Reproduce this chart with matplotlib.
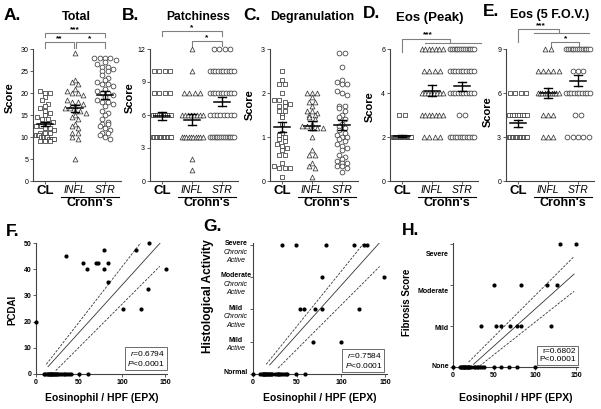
import numpy as np
import matplotlib
matplotlib.use("Agg")
import matplotlib.pyplot as plt
from matplotlib.transforms import blended_transform_factory as blend

plt.rcParams['font.family'] = ['Liberation Sans', 'DejaVu Sans']
plt.rcParams['mathtext.fontset'] = 'custom'
plt.rcParams['mathtext.rm'] = 'Liberation Sans'
plt.rcParams['mathtext.it'] = 'Liberation Sans:italic'

# ---------------- data ----------------
groups = ["CL", "INFL", "STR"]

total_cl = [20.5, 20, 20, 19, 18.5, 17.5, 17, 16.5, 16, 15.5, 15, 14.5, 14, 14, 13.5, 13, 13,
            12.5, 12.5, 12, 12, 11.5, 11, 11, 11, 10.5, 10.5, 10.5, 10, 10, 10, 10, 10,
            9.5, 9.5, 9.5, 9.5, 9, 9, 9]
total_infl = [29, 23, 22.5, 22, 21, 20.5, 20, 20, 19.5, 18.5, 18, 18, 17.5, 17, 16.5, 16.5,
              16, 16, 15.5, 15, 14.5, 14, 13, 12.5, 12, 11, 11, 10, 9.5, 5]
total_str = [28, 28, 28, 28, 27.5, 27, 26.5, 26, 26, 25.5, 25, 25, 24, 23.5, 23, 22.5, 22, 22,
             21.5, 21, 20.5, 20, 20, 19.5, 19, 18.5, 18, 18, 17.5, 17, 16, 15.5, 15, 14, 13.5,
             13, 13, 12.5, 12, 11.5, 11, 11, 10.5, 10, 9.5]

patch_cl = [10] * 4 + [8] * 4 + [6] * 10 + [4] * 14
patch_infl = [12, 10] + [8] * 4 + [6] * 8 + [4] * 10 + [2, 1]
patch_str = [12] * 4 + [10] * 10 + [8] * 10 + [6] * 8 + [4] * 14

degr_cl = [2.5, 2.3, 2.2, 2.2, 2.0, 1.85, 1.85, 1.8, 1.75, 1.7, 1.7, 1.6, 1.6, 1.5, 1.45, 1.3,
           1.1, 1.05, 1.0, 0.95, 0.9, 0.85, 0.8, 0.75, 0.7, 0.6, 0.6, 0.4, 0.35, 0.3, 0.3, 0.3, 0.1]
degr_infl = [2.0, 2.0, 2.0, 1.9, 1.8, 1.8, 1.7, 1.6, 1.6, 1.55, 1.5, 1.5, 1.45, 1.4, 1.3, 1.25,
             1.25, 1.2, 1.2, 1.2, 1.0, 0.7, 0.6, 0.6, 0.4, 0.35, 0.3, 0.1]
degr_str = [2.9, 2.9, 2.6, 2.3, 2.25, 2.2, 2.2, 2.05, 2.0, 1.95, 1.7, 1.7, 1.65, 1.6, 1.5, 1.45,
            1.4, 1.3, 1.25, 1.2, 1.15, 1.1, 1.05, 1.0, 1.0, 0.95, 0.9, 0.85, 0.8, 0.75, 0.7,
            0.6, 0.55, 0.5, 0.45, 0.4, 0.4, 0.35, 0.35, 0.3, 0.2]

peak_cl = [3, 3] + [2] * 30
peak_infl = [6] * 7 + [5] * 4 + [4] * 8 + [3] * 7 + [2] * 4
peak_str = [6] * 14 + [5] * 10 + [4] * 10 + [3] * 2 + [2] * 11

fov_cl = [6] * 4 + [4.5] * 8 + [3] * 14
fov_infl = [9] * 2 + [7.5] * 5 + [6] * 10 + [4.5] * 3 + [3] * 3
fov_str = [9] * 14 + [7.5] * 3 + [6] * 10 + [4.5] * 2 + [3] * 5

# correlation panels (eosinophils / HPF vs clinical scores)
pcdai_eos = [0, 35, 55, 59, 70, 72, 79, 79, 84, 84, 101, 116, 122, 131, 130, 151,
             9, 11, 13, 14, 15, 16, 17, 18, 19, 20, 21, 22, 23, 25, 26, 28, 30, 32, 34, 36,
             38, 41, 50, 60]
pcdai_val = [20, 45, 42.5, 40, 42.5, 42.5, 47.5, 40, 42.5, 35, 25, 47.5, 25, 50, 32.5, 40,
             0, 0, 0, 0, 0, 0, 0, 0, 0, 0, 0, 0, 0, 0, 0, 0, 0, 0, 0, 0, 0, 0, 0, 0]
pcdai_fit_x = [14, 145]
pcdai_fit_y = [2.8, 50.2]
pcdai_up_x = [12, 123]
pcdai_up_y = [3.7, 50.6]
pcdai_lo_x = [23, 144]
pcdai_lo_y = [1.3, 41.1]

hist_eos = [33, 49, 83, 115, 126, 130, 78, 149, 53, 58, 70, 78, 120, 68, 100,
            0, 8, 10, 11, 12, 13, 14, 15, 16, 17, 18, 19, 20, 22, 25, 27, 28, 30, 31, 33,
            35, 37, 39, 49, 59]
hist_val = [4, 4, 4, 4, 4, 4, 3, 3, 2, 2, 2, 2, 2, 1, 1,
            0, 0, 0, 0, 0, 0, 0, 0, 0, 0, 0, 0, 0, 0, 0, 0, 0, 0, 0, 0, 0, 0, 0, 0, 0]
hist_fit_x = [19, 144]
hist_fit_y = [0.28, 4.07]
hist_up_x = [15, 125]
hist_up_y = [0.3, 4.02]
hist_lo_x = [28.5, 144]
hist_lo_y = [0.18, 3.33]
hist_levels = [0, 1, 2, 3, 4]
hist_labels = [["Normal"], ["Mild", "Active"], ["Mild", "Chronic", "Active"],
               ["Moderate", "Chronic", "Active"], ["Severe", "Chronic", "Active"]]

fib_eos = [130, 150, 50, 83, 115, 127, 34, 53, 58, 70, 78, 83, 120,
           0, 8, 10, 11, 12, 13, 14, 15, 16, 17, 18, 19, 20, 22, 25, 27, 29, 31, 33, 35, 38,
           50, 58, 68, 78, 100]
fib_val = [3, 3, 2, 2, 2, 2, 1, 1, 1, 1, 1, 1, 1,
           0, 0, 0, 0, 0, 0, 0, 0, 0, 0, 0, 0, 0, 0, 0, 0, 0, 0, 0, 0, 0, 0, 0, 0, 0, 0]
fib_fit_x = [25, 147.6]
fib_fit_y = [0.066, 2.27]
fib_up_x = [19, 147.6]
fib_up_y = [0.12, 2.7]
fib_lo_x = [32.4, 147.6]
fib_lo_y = [0.025, 1.85]
fib_label_pos = [0, 0.93, 1.85, 2.75]
fib_labels = ["None", "Mild", "Moderate", "Severe"]

# ---------------- figure ----------------
W, H = 601, 409
fig = plt.figure(figsize=(W / 100, H / 100), dpi=100)


def rect(l, t, r, b):
    return [l / W, 1 - b / H, (r - l) / W, (b - t) / H]


def ft(x, y, s, **kw):
    fig.text(x / W, 1 - y / H, s, **kw)


EDGE = '#3a3a3a'
SPINE = '#444444'
BRK = '#808080'
markers = ['s', '^', 'o']
maxw = [0.6, 0.7, 0.8]
TOP, BOT = 49, 181


def yf(py):
    return (BOT - py) / (BOT - TOP)


def swarm_x(vals, center, binw, d, mw):
    vals = np.asarray(vals, float)
    keys = np.round(vals / binw).astype(int)
    xs = np.zeros_like(vals)
    for k in np.unique(keys):
        idx = np.where(keys == k)[0]
        n = len(idx)
        if n == 1:
            xs[idx] = center
            continue
        sp = min(d, mw / (n - 1))
        xs[idx] = center + (np.arange(n) - (n - 1) / 2) * sp
    return xs


def style_axes(ax):
    for s in ['top', 'right']:
        ax.spines[s].set_visible(False)
    for s in ['left', 'bottom']:
        ax.spines[s].set_color(SPINE)
        ax.spines[s].set_linewidth(0.8)
    ax.tick_params(axis='both', direction='out', length=2, width=0.6, color=SPINE,
                   labelsize=5, pad=1.5)


def dot_panel(L, series, ymax, yticks, binw):
    ax = fig.add_axes(rect(L, TOP, L + 88, BOT))
    style_axes(ax)
    for gi, vals in enumerate(series):
        xs = swarm_x(vals, gi, binw, 0.18, maxw[gi])
        ax.scatter(xs, vals, marker=markers[gi], s=12, facecolors='white',
                   edgecolors=EDGE, linewidths=0.55, zorder=3, clip_on=False)
        m = np.mean(vals)
        se = np.std(vals, ddof=1) / np.sqrt(len(vals))
        ax.plot([gi - 0.28, gi + 0.28], [m, m], color='black', lw=1.1, zorder=4)
        ax.plot([gi, gi], [m - se, m + se], color='black', lw=1.0, zorder=4)
        for yy in (m - se, m + se):
            ax.plot([gi - 0.14, gi + 0.14], [yy, yy], color='black', lw=1.0, zorder=4)
    ax.set_xlim(-0.4, 2.53)
    ax.set_ylim(0, ymax)
    ax.set_yticks(yticks)
    ax.set_xticks([0, 1, 2])
    ax.set_xticklabels([])
    tr = ax.get_xaxis_transform()
    ax.text(0, yf(191), groups[0], transform=tr, ha='center', va='center',
            fontsize=9.5, fontweight='bold')
    for gi in (1, 2):
        ax.text(gi, yf(190), groups[gi], transform=tr, ha='center', va='center',
                fontsize=7.5, fontstyle='italic')
    ax.plot([0.52, 2.45], [yf(196.5), yf(196.5)], transform=tr, color='black', lw=0.8,
            clip_on=False)
    ax.text(1.48, yf(203), "Crohn's", transform=tr, ha='center', va='center',
            fontsize=9, fontweight='bold')
    return ax


def bracket(ax, pts, text=None, tx=None, ty=None):
    tr = blend(ax.transData, ax.transAxes)
    xs = [p[0] for p in pts]
    ys = [yf(p[1]) for p in pts]
    ax.plot(xs, ys, transform=tr, color=BRK, lw=0.8, clip_on=False)
    if text:
        ax.text(tx, yf(ty), text, transform=tr, ha='center', va='center', fontsize=6,
                fontweight='bold')


# A
axA = dot_panel(33, [total_cl, total_infl, total_str], 30, [0, 5, 10, 15, 20, 25, 30], 1.0)
bracket(axA, [(0, 37), (0, 33), (2, 33), (2, 37)], "***", 1, 29.5)
bracket(axA, [(0, 48), (0, 42), (0.97, 42), (0.97, 48)], "**", 0.48, 38.5)
bracket(axA, [(1.03, 48), (1.03, 42), (2, 42), (2, 48)], "*", 1.5, 38.5)
# B
axB = dot_panel(150, [patch_cl, patch_infl, patch_str], 12, [0, 3, 6, 9, 12], 0.5)
bracket(axB, [(0, 36), (0, 31), (2, 31), (2, 36)], "*", 1, 27.5)
bracket(axB, [(1, 45.7), (1, 40.7), (2, 40.7), (2, 45.7)], "*", 1.5, 37.5)
# C
axC = dot_panel(270, [degr_cl, degr_infl, degr_str], 3, [0, 1, 2, 3], 0.1)
# D
axD = dot_panel(390, [peak_cl, peak_infl, peak_str], 6, [0, 2, 4, 6], 0.5)
bracket(axD, [(0, 52), (0, 39), (1.6, 39), (1.6, 43)], "***", 0.86, 34.5)
bracket(axD, [(0.76, 43), (2.62, 43)])
# E
axE = dot_panel(506, [fov_cl, fov_infl, fov_str], 9, [0, 3, 6, 9], 0.5)
bracket(axE, [(0, 41.7), (0, 29.3), (1.38, 29.3), (1.38, 33.3)], "***", 0.75, 26)
bracket(axE, [(0.52, 33.3), (2.38, 33.3)])
bracket(axE, [(1.09, 46.7), (1.09, 41.7), (2.04, 41.7), (2.04, 46.7)], "*", 1.57, 38.3)

# titles, letters, y labels (top)
for (x, y, s, fs) in [(76, 17, "Total", 9), (198, 17, "Patchiness", 8.7),
                      (312, 17, "Degranulation", 9), (430, 18, "Eos (Peak)", 9.5),
                      (550, 15, "Eos (5 F.O.V.)", 9)]:
    ft(x, y, s, ha='center', va='center', fontsize=fs, fontweight='bold')
for (x, y, s) in [(4, 15, "A."), (122, 15, "B."), (243, 15, "C."), (363, 14, "D."),
                  (483, 12, "E."), (6, 231, "F."), (203, 227, "G."), (402, 230, "H.")]:
    ft(x, y, s, ha='left', va='center', fontsize=12.5, fontweight='bold')
for (x, y) in [(10, 98), (130, 98), (250, 105), (370, 107), (488, 112)]:
    ft(x, y, "Score", ha='center', va='center', rotation=90, fontsize=8, fontweight='bold')


# ---------------- bottom correlation panels ----------------
def corr_panel(l, t, r, b, ex, ev, fx, fy, ux, uy, lx, ly, ymax):
    ax = fig.add_axes(rect(l, t, r, b))
    style_axes(ax)
    ax.plot(fx, fy, color='#333333', lw=0.6, zorder=2)
    ax.plot(ux, uy, color='#333333', lw=0.6, ls=(0, (3, 1.6)), zorder=2)
    ax.plot(lx, ly, color='#333333', lw=0.6, ls=(0, (3, 1.6)), zorder=2)
    ax.scatter(ex, ev, s=9, color='black', zorder=3, clip_on=False, linewidths=0)
    ax.set_xlim(0, 152.4)
    ax.set_ylim(0, ymax)
    ax.set_xticks([0, 50, 100, 150])
    for lab in ax.get_xticklabels() + ax.get_yticklabels():
        lab.set_fontweight('bold')
    return ax


axF = corr_panel(36, 243, 167, 374, pcdai_eos, pcdai_val, pcdai_fit_x, pcdai_fit_y,
                 pcdai_up_x, pcdai_up_y, pcdai_lo_x, pcdai_lo_y, 50)
axF.set_yticks([0, 10, 20, 30, 40, 50])
for lab in axF.get_xticklabels() + axF.get_yticklabels():
    lab.set_fontweight('bold')
axF.text(0.985, 0.045, "$r$=0.6794\n$P$<0.0001", transform=axF.transAxes, ha='right',
         va='bottom', fontsize=6, linespacing=1.1,
         bbox=dict(boxstyle='square,pad=0.25', fc='white', ec='#555555', lw=0.6))

axG = corr_panel(253, 243, 387, 374, hist_eos, hist_val, hist_fit_x, hist_fit_y,
                 hist_up_x, hist_up_y, hist_lo_x, hist_lo_y, 4.06)
axG.set_yticks(hist_levels)
axG.set_yticklabels([])
for lab in axG.get_xticklabels():
    lab.set_fontweight('bold')
trG = axG.get_yaxis_transform()
for lvl, lines in zip(hist_levels, hist_labels):
    for i, s in enumerate(lines):
        axG.annotate(s, xy=(-0.127, lvl), xycoords=trG, xytext=(0, 1 - i * 6.1),
                     textcoords='offset points', ha='center', va='center', fontsize=5,
                     fontweight='bold' if i == 0 else 'normal',
                     fontstyle='normal' if i == 0 else 'italic', annotation_clip=False)
axG.text(0.965, 0.03, "$r$=0.7584\n$P$<0.0001", transform=axG.transAxes, ha='right',
         va='bottom', fontsize=6, linespacing=1.1,
         bbox=dict(boxstyle='square,pad=0.25', fc='white', ec='#555555', lw=0.6))

axH = corr_panel(453, 243, 578, 367, fib_eos, fib_val, fib_fit_x, fib_fit_y,
                 fib_up_x, fib_up_y, fib_lo_x, fib_lo_y, 3.03)
axH.set_yticks([0, 1, 2, 3])
axH.set_yticklabels([])
for lab in axH.get_xticklabels():
    lab.set_fontweight('bold')
trH = axH.get_yaxis_transform()
for pos, s in zip(fib_label_pos, fib_labels):
    axH.text(-0.035, pos, s, transform=trH, ha='right', va='center', fontsize=5,
             fontweight='bold')
axH.text(0.985, 0.035, "r=0.6802\nP<0.0001", transform=axH.transAxes, ha='right',
         va='bottom', fontsize=6, linespacing=1.1,
         bbox=dict(boxstyle='square,pad=0.25', fc='white', ec='#555555', lw=0.6))

for x in (101.5, 320, 515.5):
    ft(x, 398, "Eosinophil / HPF (EPX)", ha='center', va='center', fontsize=7.5,
       fontweight='bold')
ft(12, 310, "PCDAI", ha='center', va='center', rotation=90, fontsize=7, fontweight='bold')
ft(208, 296, "Histological Activity", ha='center', va='center', rotation=90, fontsize=8.6,
   fontweight='bold')
ft(407, 302, "Fibrosis Score", ha='center', va='center', rotation=90, fontsize=7,
   fontweight='bold')

fig.savefig("out.png", dpi=100)
